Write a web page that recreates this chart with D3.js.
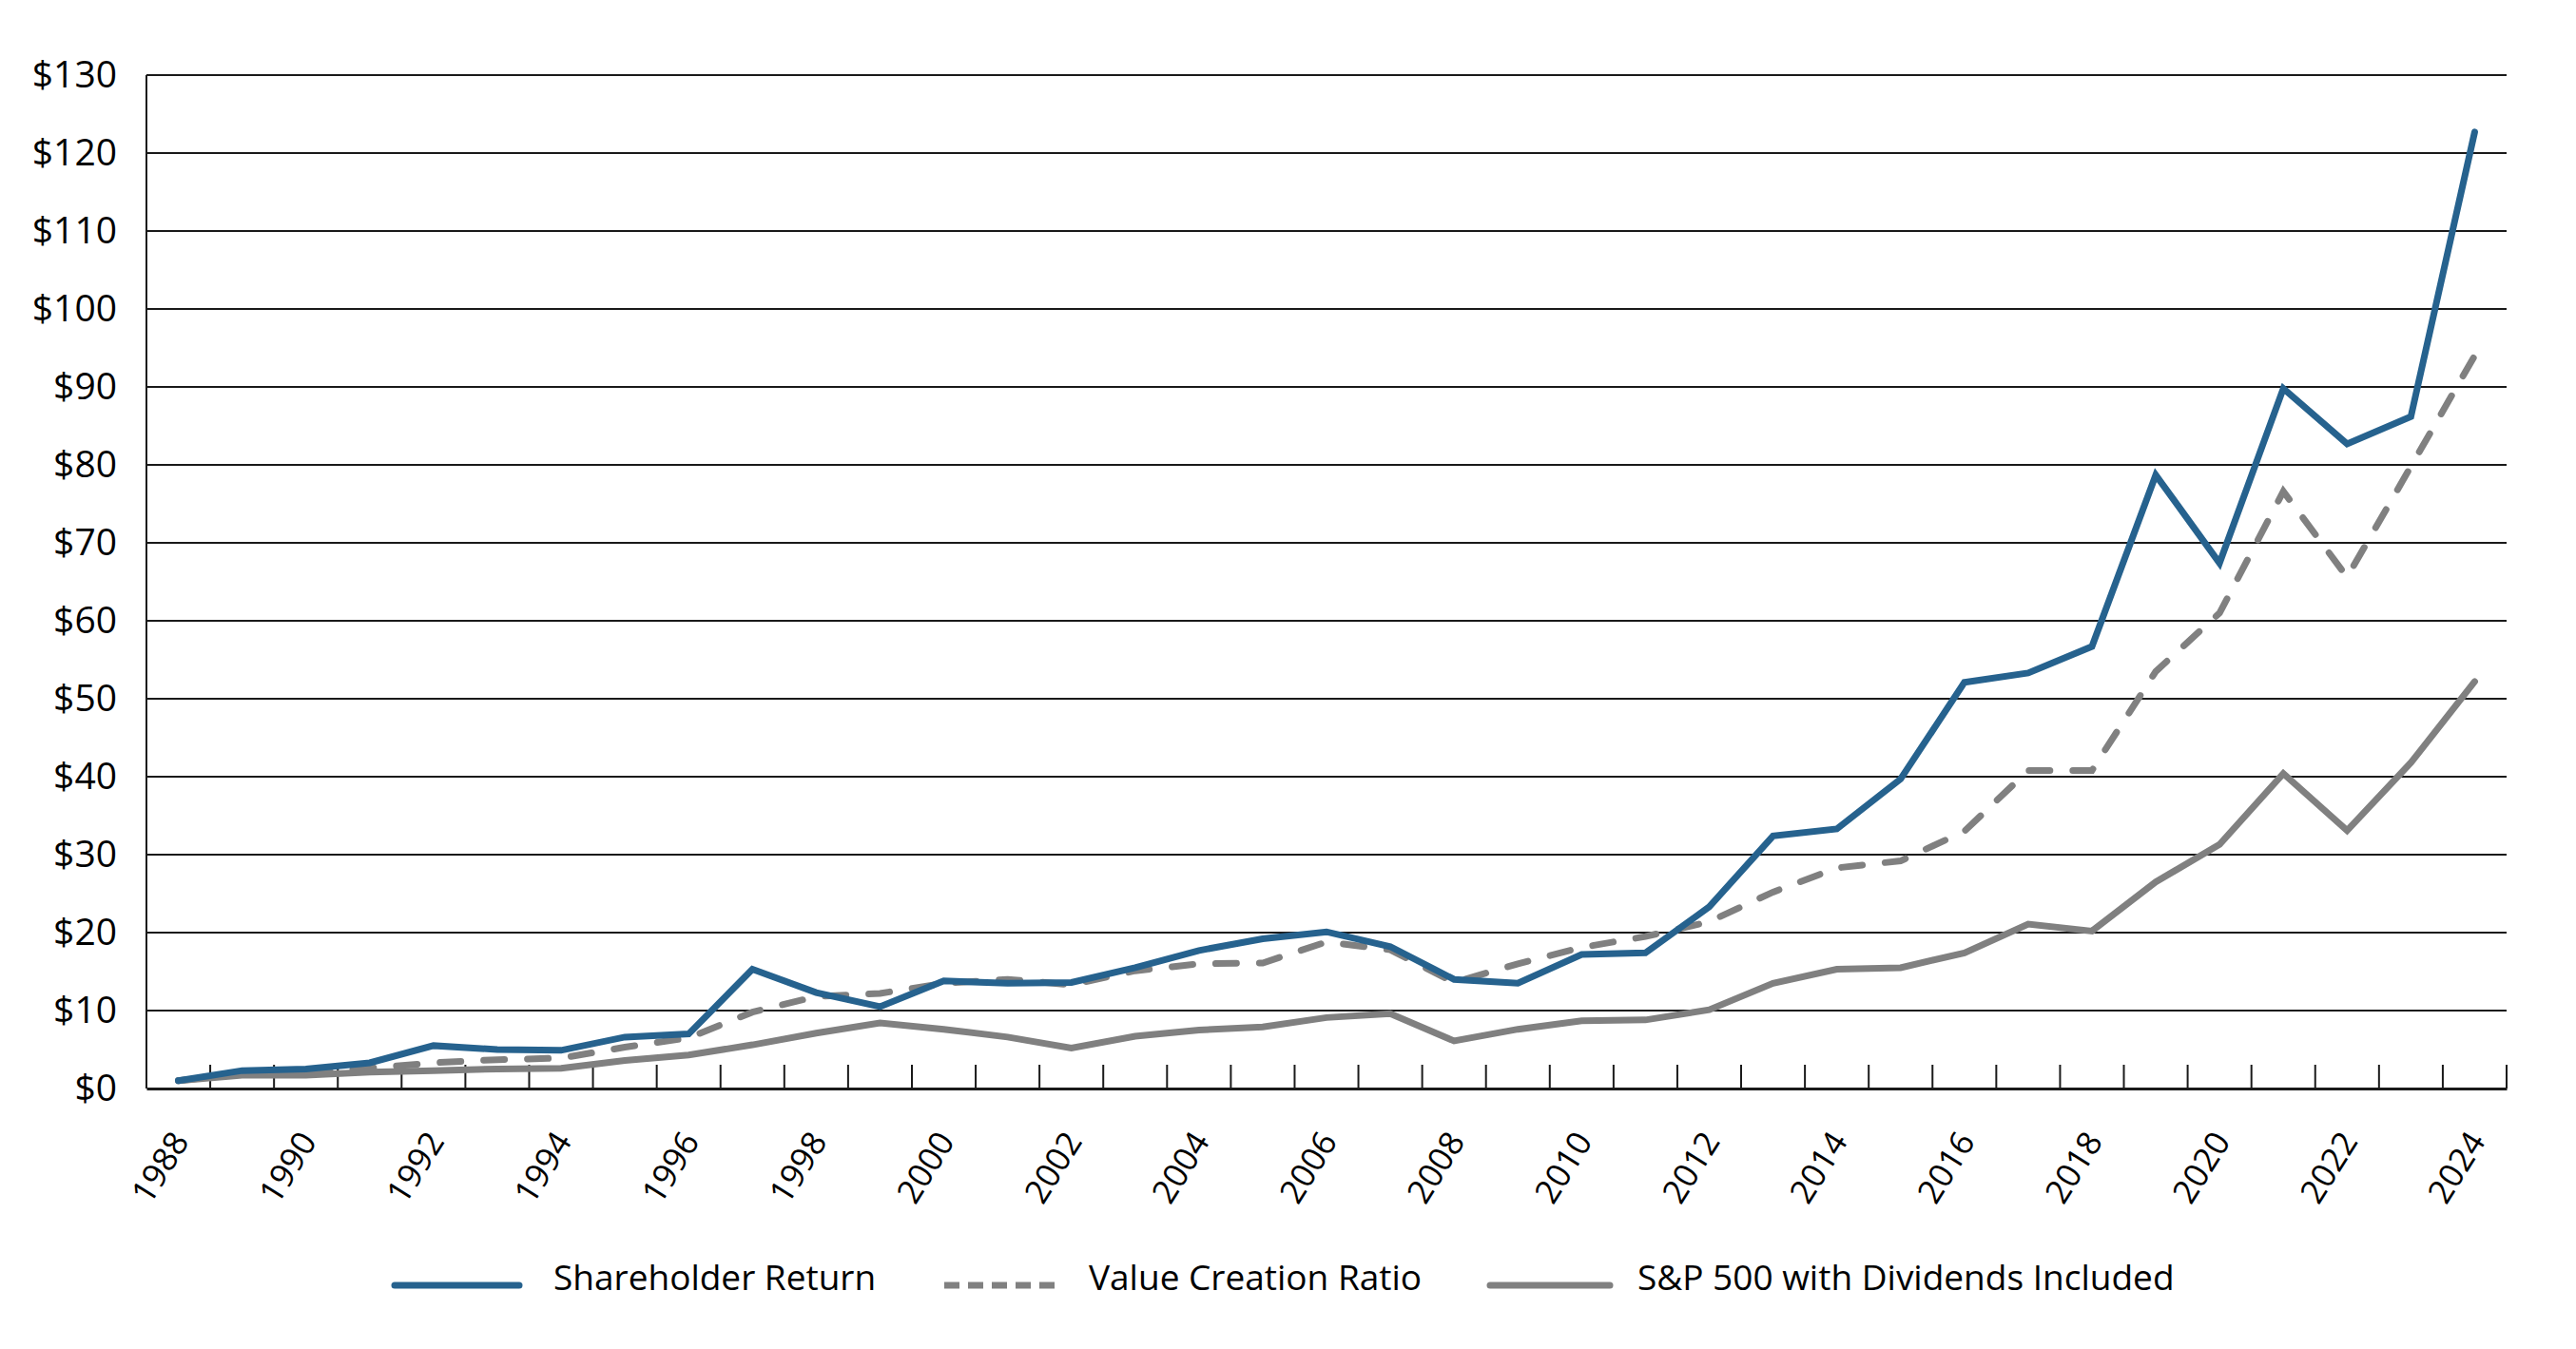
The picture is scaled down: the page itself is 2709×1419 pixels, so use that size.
<!DOCTYPE html>
<html>
<head>
<meta charset="utf-8">
<script src="https://cdn.jsdelivr.net/npm/d3@7"></script>
<style>
  body { margin: 0; background: #fff; }
  svg { display: block; font-family: 'Open Sans', sans-serif; }
</style>
</head>
<body>
<svg id="canvas" width="2709" height="1419"></svg>
<script>
const years = d3.range(1988, 2025)

const shareholderReturn = [1.0, 2.3, 2.5, 3.3, 5.5, 5.0, 4.9, 6.6, 7.0, 15.3, 12.3, 10.5, 13.8, 13.5, 13.6, 15.5, 17.7, 19.2, 20.1, 18.2, 14.0, 13.5, 17.2, 17.4, 23.3, 32.4, 33.3, 39.7, 52.1, 53.3, 56.7, 78.7, 67.4, 89.8, 82.7, 86.2, 122.7]
const valueCreationRatio = [1.0, 1.9, 2.0, 2.6, 3.3, 3.7, 3.9, 5.3, 6.5, 9.8, 11.8, 12.2, 13.5, 14.0, 13.3, 15.1, 16.0, 16.1, 18.8, 17.8, 13.6, 16.0, 18.1, 19.5, 21.4, 25.2, 28.3, 29.2, 33.0, 40.8, 40.8, 53.5, 61.0, 76.6, 65.6, 79.8, 94.0]
const sp500 = [1.0, 1.7, 1.7, 2.1, 2.3, 2.5, 2.6, 3.6, 4.3, 5.6, 7.1, 8.4, 7.6, 6.6, 5.2, 6.7, 7.5, 7.9, 9.1, 9.6, 6.1, 7.6, 8.7, 8.8, 10.1, 13.5, 15.3, 15.5, 17.4, 21.1, 20.2, 26.5, 31.3, 40.4, 33.1, 41.8, 52.2]

const seriesNames = ['Shareholder Return', 'Value Creation Ratio', 'S&P 500 with Dividends Included']
const yTicks = d3.range(0, 131, 10)
const xLabels = years.filter(y => y % 2 === 0)

const series = [
    { name: seriesNames[0], values: shareholderReturn, color: '#26628e', dash: null },
    { name: seriesNames[1], values: valueCreationRatio, color: '#808080', dash: '22,24' },
    { name: seriesNames[2], values: sp500, color: '#808080', dash: null }
]

let canvas = d3.select('#canvas')

// plot area
const plot = { left: 154, right: 2636, top: 79, bottom: 1145 }

let x = d3.scaleBand()
    .domain(years)
    .range([plot.left, plot.right])
    .padding(0)

let y = d3.scaleLinear()
    .domain([0, 130])
    .range([plot.bottom, plot.top])

// gridlines
canvas.append('g')
    .selectAll('line')
    .data(yTicks.filter(d => d > 0))
    .enter()
    .append('line')
    .attr('x1', plot.left)
    .attr('x2', plot.right)
    .attr('y1', d => y(d))
    .attr('y2', d => y(d))
    .attr('stroke', '#1a1a1a')
    .attr('stroke-width', 2)

// y axis labels
let yAxis = d3.axisLeft(y)
    .tickValues(yTicks)
    .tickSize(0)
    .tickPadding(31)
    .tickFormat(d => '$' + d)

canvas.append('g')
    .attr('transform', 'translate(' + plot.left + ',0)')
    .call(yAxis)
    .call(g => g.select('.domain').remove())
    .selectAll('text')
    .attr('font-size', 39)
    .attr('fill', '#000')
    .attr('font-family', "'Open Sans', sans-serif")

// y axis line
canvas.append('line')
    .attr('x1', plot.left).attr('x2', plot.left)
    .attr('y1', plot.top).attr('y2', plot.bottom)
    .attr('stroke', '#1a1a1a')
    .attr('stroke-width', 2)

// x axis: tick marks at band boundaries
canvas.append('g')
    .selectAll('line')
    .data(years)
    .enter()
    .append('line')
    .attr('x1', d => x(d) + x.bandwidth())
    .attr('x2', d => x(d) + x.bandwidth())
    .attr('y1', plot.bottom)
    .attr('y2', plot.bottom - 25)
    .attr('stroke', '#1a1a1a')
    .attr('stroke-width', 2)

let xAxis = d3.axisBottom(x)
    .tickValues(xLabels)
    .tickSize(0)

let xg = canvas.append('g')
    .attr('transform', 'translate(0,' + plot.bottom + ')')
    .call(xAxis)

xg.select('.domain')
    .attr('stroke', '#1a1a1a')
    .attr('stroke-width', 3)

xg.selectAll('text')
    .attr('font-size', 35)
    .attr('fill', '#000')
    .attr('font-family', "'Open Sans', sans-serif")
    .attr('x', 0)
    .attr('y', 0)
    .attr('dy', '0.35em')
    .attr('text-anchor', 'end')
    .attr('transform', 'translate(2,49) rotate(-58)')

// lines
let line = d3.line()
    .x((d, i) => x(years[i]) + x.bandwidth() / 2)
    .y(d => y(d))

canvas.append('g')
    .selectAll('path')
    .data(series.slice().reverse())
    .enter()
    .append('path')
    .attr('d', s => line(s.values))
    .attr('fill', 'none')
    .attr('stroke', s => s.color)
    .attr('stroke-width', 7)
    .attr('stroke-linejoin', 'miter')
    .attr('stroke-linecap', 'round')
    .attr('stroke-dasharray', s => s.dash)

// legend
const legendItems = [
    { x1: 415, x2: 546, tx: 582 },
    { x1: 993, x2: 1110, tx: 1145 },
    { x1: 1567, x2: 1693, tx: 1722 }
]

let legend = canvas.append('g')
    .selectAll('g')
    .data(series)
    .enter()
    .append('g')

legend.append('line')
    .attr('x1', (s, i) => legendItems[i].x1)
    .attr('x2', (s, i) => legendItems[i].x2)
    .attr('y1', 1352)
    .attr('y2', 1352)
    .attr('stroke', s => s.color)
    .attr('stroke-width', 7)
    .attr('stroke-linecap', s => s.dash ? 'butt' : 'round')
    .attr('stroke-dasharray', s => s.dash ? '16,9' : null)

legend.append('text')
    .attr('x', (s, i) => legendItems[i].tx)
    .attr('y', 1357)
    .attr('font-size', 37)
    .attr('fill', '#000')
    .text(s => s.name)
</script>
</body>
</html>
